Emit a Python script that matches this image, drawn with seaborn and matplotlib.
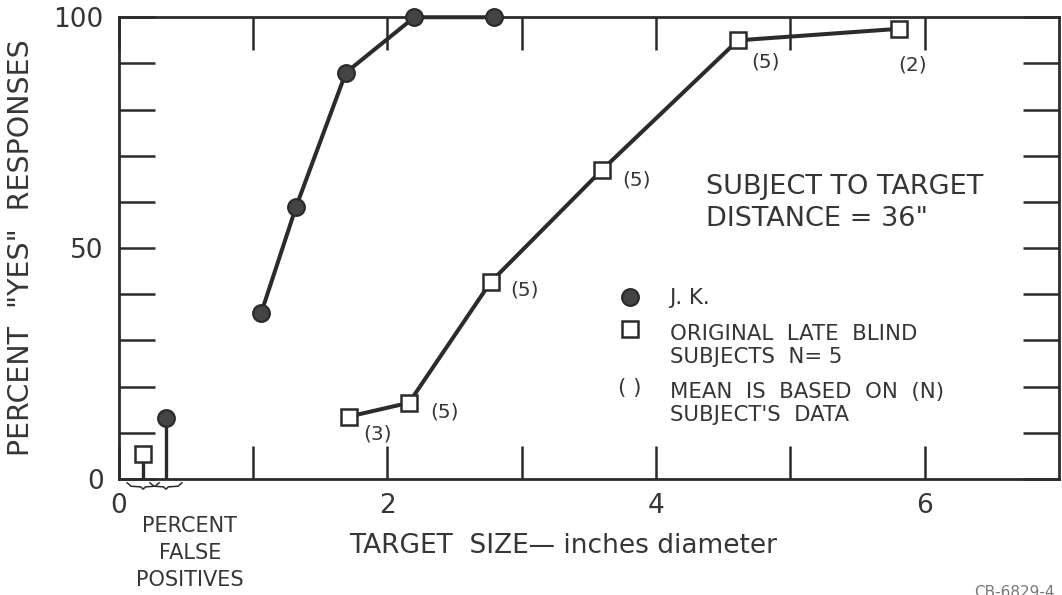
import numpy as np
import pandas as pd
import matplotlib
matplotlib.use('Agg')
import matplotlib.pyplot as plt
import matplotlib.transforms as mtransforms
from matplotlib.lines import Line2D
from matplotlib.text import Text
import seaborn as sns

# values
jk_size = [1.06, 1.32, 1.69, 2.20, 2.79]
jk_pct = [36, 59, 88, 100, 100]

blind_size = [1.71, 2.16, 2.77, 3.60, 4.61, 5.81]
blind_pct = [13.5, 16.5, 42.7, 67, 95, 97.5]
blind_n = ['(3)', '(5)', '(5)', '(5)', '(5)', '(2)']

# false positives, drawn as stems left of the size scale
fp_group = ['blind', 'jk']
fp_x = [0.18, 0.35]
fp_pct = [5.4, 13.2]

x_ticks = [0, 2, 4, 6]
y_ticks = [0, 50, 100]

ink = '#2b2b2b'
txt = '#363636'

sns.set_style('ticks')
plt.rcParams['font.family'] = ['DejaVu Sans']

jk_df = pd.DataFrame({'size': jk_size, 'pct': jk_pct})
blind_df = pd.DataFrame({'size': blind_size, 'pct': blind_pct, 'n': blind_n})

fig = plt.figure(figsize=(10.62, 5.95), dpi=100)
ax = fig.add_axes([0.112, 0.195, 0.885, 0.776])

circle_style = dict(marker='o', markersize=12, markerfacecolor='#444444',
                    markeredgecolor=ink, markeredgewidth=1.6)
square_style = dict(marker='s', markersize=11.5, markerfacecolor='white',
                    markeredgecolor=ink, markeredgewidth=1.8)

sns.lineplot(data=jk_df, x='size', y='pct', ax=ax, color=ink, lw=2.9,
             clip_on=False, zorder=4, **circle_style)
sns.lineplot(data=blind_df, x='size', y='pct', ax=ax, color=ink, lw=2.9,
             clip_on=False, zorder=4, **square_style)

# (N) annotations next to the squares (pixel offsets)
n_offsets = [(29, -17), (36, -9), (34, -8), (34, -10), (28, -22), (14, -36)]
for (_, row), off in zip(blind_df.iterrows(), n_offsets):
    ax.annotate(row['n'], (row['size'], row['pct']), xytext=off,
                textcoords='offset pixels', ha='center', va='center',
                fontsize=14.5, color=txt)

# false positive stems
ax.vlines(fp_x, 0, fp_pct, color=ink, lw=2.4, zorder=3)
for g, x, y in zip(fp_group, fp_x, fp_pct):
    style = circle_style if g == 'jk' else square_style
    ax.plot([x], [y], linestyle='none', zorder=5, clip_on=False, **style)

# little braces under the false-positive stems
brace_trans = mtransforms.blended_transform_factory(ax.transData, ax.transAxes)
bx = np.array([-1, -0.75, -0.15, 0, 0.15, 0.75, 1])
by = np.array([0, -0.55, -0.65, -1, -0.65, -0.55, 0])
for x in fp_x:
    ax.plot(x + bx * 0.12, -0.008 + by * 0.014, transform=brace_trans,
            color=ink, lw=1.1, clip_on=False)

ax.set_xlim(0, 7)
ax.set_ylim(0, 100)
ax.set_xticks(x_ticks)
ax.set_xticklabels([str(v) for v in x_ticks])
ax.set_xticks([1, 3, 5], minor=True)
ax.set_yticks(y_ticks)
ax.set_yticklabels([str(v) for v in y_ticks])
ax.set_yticks([10, 20, 30, 40, 60, 70, 80, 90], minor=True)

ax.tick_params(which='both', direction='in', top=True, right=True,
               width=1.8, color=ink, labelcolor=txt, labelsize=19)
ax.tick_params(axis='x', which='both', length=24, pad=10)
ax.tick_params(axis='y', which='both', length=26, pad=11)
for sp in ax.spines.values():
    sp.set_visible(True)
    sp.set_linewidth(2.0)
    sp.set_color(ink)

ax.set_ylabel('PERCENT  "YES"  RESPONSES', fontsize=20.5, color=txt)
ax.yaxis.set_label_coords(-0.089, 0.5)
ax.set_xlabel('TARGET  SIZE\u2014 inches diameter', fontsize=19, color=txt)
ax.xaxis.set_label_coords(0.473, -0.118)

ax.text(0.0755, -0.16, 'PERCENT\nFALSE\nPOSITIVES', transform=ax.transAxes,
        ha='center', va='center', fontsize=15, color=txt, linespacing=1.45)

ax.text(4.37, 63.2, 'SUBJECT TO TARGET', ha='left', va='center',
        fontsize=19.5, color=txt)
ax.text(4.37, 56.3, 'DISTANCE = 36"', ha='left', va='center',
        fontsize=19.5, color=txt)


class RaisedKey:
    """Legend key drawn next to the first line of a multi-line label."""

    def __init__(self, lift=0.0, text=None):
        self.lift = lift
        self.text = text

    def legend_artist(self, legend, orig_handle, fontsize, handlebox):
        x = -handlebox.xdescent + handlebox.width / 2
        y = (handlebox.height - handlebox.ydescent) / 2 + self.lift * fontsize
        if self.text:
            art = Text(x, y, self.text, ha='center', va='center',
                       fontsize=fontsize, color=txt)
        else:
            art = Line2D([x], [y], linestyle='none',
                         marker=orig_handle.get_marker(),
                         markersize=orig_handle.get_markersize(),
                         markerfacecolor=orig_handle.get_markerfacecolor(),
                         markeredgecolor=orig_handle.get_markeredgecolor(),
                         markeredgewidth=orig_handle.get_markeredgewidth())
        art.set_transform(handlebox.get_transform())
        handlebox.add_artist(art)
        return art


h_jk = Line2D([], [], linestyle='none', **circle_style)
h_blind = Line2D([], [], linestyle='none', **square_style)
h_paren = Line2D([], [], linestyle='none')
leg = ax.legend([h_jk, h_blind, h_paren],
                ['J. K.', 'ORIGINAL  LATE  BLIND\nSUBJECTS  N= 5',
                 'MEAN  IS  BASED  ON  (N)\nSUBJECT\'S  DATA'],
                handler_map={h_jk: RaisedKey(0), h_blind: RaisedKey(0.78),
                             h_paren: RaisedKey(0.78, '( )')},
                loc='upper left', bbox_to_anchor=(0.527, 0.413), frameon=False,
                borderpad=0, borderaxespad=0, labelspacing=0.72,
                handlelength=1.5, handletextpad=1.1, fontsize=15.3,
                labelcolor=txt)

fig.text(0.955, 0.005, 'CB-6829-4', ha='center', va='center',
         fontsize=11, color='#777777')

fig.savefig('out.png', dpi=100, facecolor='white')
